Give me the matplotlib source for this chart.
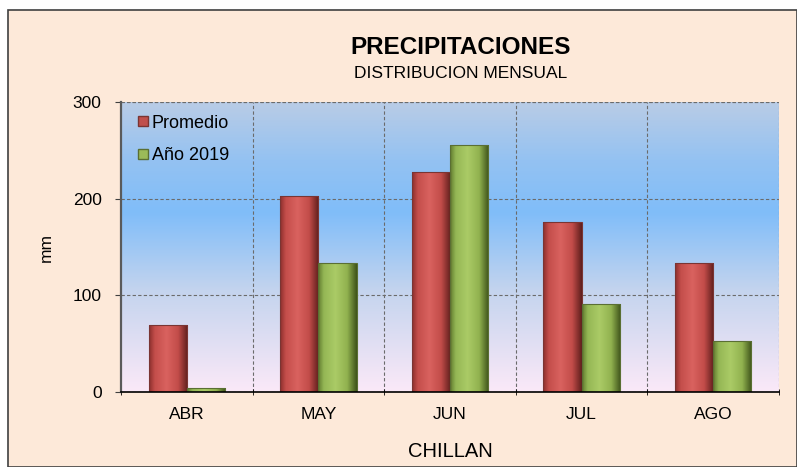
import numpy as np
import matplotlib
matplotlib.use("Agg")
import matplotlib.pyplot as plt
from matplotlib.colors import LinearSegmentedColormap
from matplotlib.patches import Rectangle
from matplotlib.lines import Line2D

plt.rcParams['font.family'] = ['Liberation Sans', 'DejaVu Sans']

categories = ["ABR", "MAY", "JUN", "JUL", "AGO"]
promedio = [69, 203, 228, 176, 133]
anio_2019 = [4, 133, 256, 91, 53]
series_names = ["Promedio", "Año 2019"]
yticks = [0, 100, 200, 300]

W, H = 797, 467
fig = plt.figure(figsize=(W / 100, H / 100), dpi=100)
fig.patch.set_facecolor("white")
panel = Rectangle((8 / W, 0), (W - 8) / W, (H - 10) / H, transform=fig.transFigure,
                  facecolor="#fde9d9", edgecolor="#404040", linewidth=1.2, zorder=-10)
fig.add_artist(panel)

ax = fig.add_axes([121 / W, (H - 392) / H, (779 - 121) / W, (392 - 102) / H])
ax.set_zorder(1)
ax.set_facecolor("none")

bg = LinearSegmentedColormap.from_list("bg", [(0.0, "#fbe9f8"), (0.35, "#c4d4ee"),
                                              (0.62, "#80bdf9"), (0.8, "#94c2f2"),
                                              (1.0, "#b9cce6")])
grad = np.linspace(0, 1, 256).reshape(-1, 1)
ax.imshow(grad, aspect="auto", cmap=bg, origin="lower",
          extent=(-0.5, len(categories) - 0.5, 0, 300), zorder=0)

x = np.arange(len(categories))
w = 0.29
red_cmap = LinearSegmentedColormap.from_list("r", [(0, "#8a2e2c"), (0.15, "#c44e4b"), (0.45, "#d9625f"),
                                                   (0.75, "#c24c49"), (1, "#5e1e1c")])
green_cmap = LinearSegmentedColormap.from_list("g", [(0, "#5f7a2e"), (0.15, "#94b755"), (0.45, "#abcb66"),
                                                     (0.75, "#91b24f"), (1, "#3d5219")])

def shaded(bars, cmap, edge):
    hgrad = np.linspace(0, 1, 256).reshape(1, -1)
    for b in bars:
        bx, by = b.get_x(), b.get_y()
        bw, bh = b.get_width(), b.get_height()
        im = ax.imshow(hgrad, aspect="auto", cmap=cmap,
                       extent=(bx, bx + bw, by, by + bh), zorder=3)
        im.set_clip_path(b)
        b.set_facecolor("none")
        b.set_edgecolor(edge)
        b.set_linewidth(0.8)
        b.set_zorder(4)

b1 = ax.bar(x - w / 2, promedio, w, color="#c0504d", label=series_names[0], zorder=3)
b2 = ax.bar(x + w / 2, anio_2019, w, color="#9bbb59", label=series_names[1], zorder=3)
shaded(b1, red_cmap, "#7a3533")
shaded(b2, green_cmap, "#5a6f33")

ax.set_xlim(-0.5, len(categories) - 0.5)
ax.set_ylim(0, 300)
ax.set_yticks(yticks)
ax.set_xticks(x)
ax.set_xticklabels(categories, fontsize=12.5)
ax.tick_params(axis="y", labelsize=12.5, direction="out", length=4, color="#404040", pad=10)
ax.tick_params(axis="x", length=0, pad=11)
ax.set_xticks(np.arange(-0.5, len(categories), 1), minor=True)
ax.tick_params(axis="x", which="minor", length=5, direction="inout", color="black")

ax.grid(True, axis="y", linestyle=(0, (3, 2)), color="#6b6b6b", linewidth=0.8, zorder=1)
for xv in np.arange(0.5, len(categories), 1):
    ax.axvline(xv, linestyle=(0, (3, 2)), color="#6b6b6b", linewidth=0.8, zorder=1)
ax.axhline(300, linestyle=(0, (3, 2)), color="#6b6b6b", linewidth=0.8, zorder=1)

for s in ["top", "right"]:
    ax.spines[s].set_visible(False)
ax.spines["left"].set_color("#5a5a5a")
ax.spines["left"].set_linewidth(1.6)
ax.spines["bottom"].set_color("black")
ax.spines["bottom"].set_linewidth(1.2)
ax.spines["bottom"].set_zorder(5)

ax.set_ylabel("mm", fontsize=12.5)
ax.yaxis.set_label_coords((54 - 121) / 658, 0.5)
ax.set_xlabel("CHILLAN", fontsize=14.5, labelpad=14)

handles = [Line2D([], [], marker="s", linestyle="none", markersize=6.5, markerfacecolor="#c0504d",
                  markeredgecolor="#7a3533"),
           Line2D([], [], marker="s", linestyle="none", markersize=6.5, markerfacecolor="#9bbb59",
                  markeredgecolor="#5a6f33")]
ax.legend(handles, series_names, loc="upper left", frameon=False, fontsize=13,
          handletextpad=0.0, labelspacing=0.85, borderaxespad=0.3, handlelength=1.0,
          bbox_to_anchor=(0.0, 1.0))

fig.text(461 / W, (H - 47) / H, "PRECIPITACIONES", ha="center", va="center",
         fontsize=17.5, fontweight="bold")
fig.text(461 / W, (H - 73) / H, "DISTRIBUCION MENSUAL", ha="center", va="center", fontsize=12.5)

fig.savefig("out.png", dpi=100)
